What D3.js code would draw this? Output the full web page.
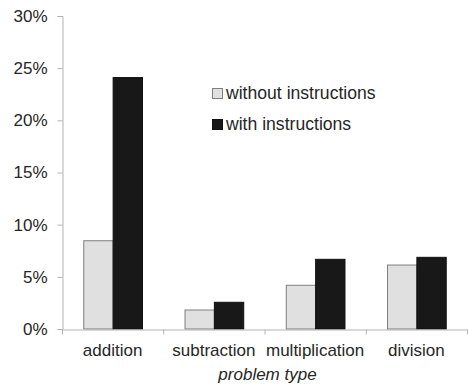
<!DOCTYPE html>
<html>
<head>
<meta charset="utf-8">
<script src="https://cdn.jsdelivr.net/npm/d3@7"></script>
<style>
html,body{margin:0;padding:0;background:#fff;}
svg{display:block;}
text{font-family:"Liberation Sans",Arial,sans-serif;fill:#262626;}
</style>
</head>
<body>
<svg id="chart" width="468" height="385"></svg>
<script>
const categories = ["addition", "subtraction", "multiplication", "division"];
const seriesNames = ["without instructions", "with instructions"];
const withoutInstructions = [0.0846, 0.0182, 0.0419, 0.0613];
const withInstructions = [0.241, 0.0256, 0.0668, 0.0687];
const yTicks = [0, 0.05, 0.10, 0.15, 0.20, 0.25, 0.30];
const seriesColors = ["#e0e0e0", "#181818"];
const seriesStrokes = ["#7f7f7f", "#111111"];

const svg = d3.select("#chart");
const mLeft = 62, mRight = 467, mTop = 16, mBottom = 329;

const x0 = d3.scaleBand().domain(categories).range([mLeft, mRight]).paddingInner(0).paddingOuter(0);
const bw = x0.bandwidth();
const x1 = d3.scaleBand().domain(seriesNames).range([bw * 0.21, bw * 0.79]).padding(0);
const y = d3.scaleLinear().domain([0, 0.30]).range([mBottom, mTop]);

const seriesValues = [withoutInstructions, withInstructions];

// bars
const groups = svg.append("g").selectAll("g").data(categories).join("g")
  .attr("transform", d => `translate(${x0(d)},0)`);
groups.selectAll("rect").data((c, i) => seriesNames.map((s, k) => ({s, k, v: seriesValues[k][i]})))
  .join("rect")
  .attr("x", d => x1(d.s) + 0.5)
  .attr("width", x1.bandwidth())
  .attr("y", d => y(d.v))
  .attr("height", d => mBottom - y(d.v))
  .attr("fill", d => seriesColors[d.k])
  .attr("stroke", d => seriesStrokes[d.k])
  .attr("stroke-width", 1);

// y axis
const yAxis = d3.axisLeft(y).tickValues(yTicks).tickFormat(d3.format(".0%")).tickSize(5).tickPadding(10);
const gy = svg.append("g").attr("transform", `translate(${mLeft + 0.5},0)`).call(yAxis);
gy.select(".domain").attr("stroke", "#b3b3b3");
gy.selectAll(".tick line").attr("stroke", "#b3b3b3");
gy.selectAll(".tick text").attr("font-size", 17).attr("fill", "#262626")
  .attr("font-family", "'Liberation Sans', Arial, sans-serif");

// x axis
const xAxis = d3.axisBottom(x0).tickSize(0).tickPadding(14);
const gx = svg.append("g").attr("transform", `translate(0,${mBottom + 0.5})`).call(xAxis);
gx.select(".domain").attr("stroke", "#b3b3b3");
gx.selectAll(".tick text").attr("font-size", 17).attr("fill", "#262626")
  .attr("font-family", "'Liberation Sans', Arial, sans-serif");
// category boundary ticks
const bounds = categories.map(c => x0(c)).concat([mRight]);
gx.selectAll(".bound").data(bounds).join("line").attr("class", "bound")
  .attr("x1", d => d + 0.5).attr("x2", d => d + 0.5).attr("y1", 0).attr("y2", 5)
  .attr("stroke", "#b3b3b3");

// x axis title
svg.append("text").attr("x", (mLeft + mRight) / 2 + 3).attr("y", 380)
  .attr("text-anchor", "middle").attr("font-size", 17).attr("font-style", "italic")
  .text("problem type");

// legend
const legend = svg.append("g").selectAll("g").data(seriesNames).join("g")
  .attr("transform", (d, i) => `translate(212,${88 + i * 31})`);
legend.append("rect").attr("x", 0.5).attr("y", 0.5).attr("width", 10).attr("height", 10)
  .attr("fill", (d, i) => seriesColors[i]).attr("stroke", (d, i) => seriesStrokes[i]);
legend.append("text").attr("x", 14).attr("y", 10.5).attr("font-size", 17.6).text(d => d);
</script>
</body>
</html>
